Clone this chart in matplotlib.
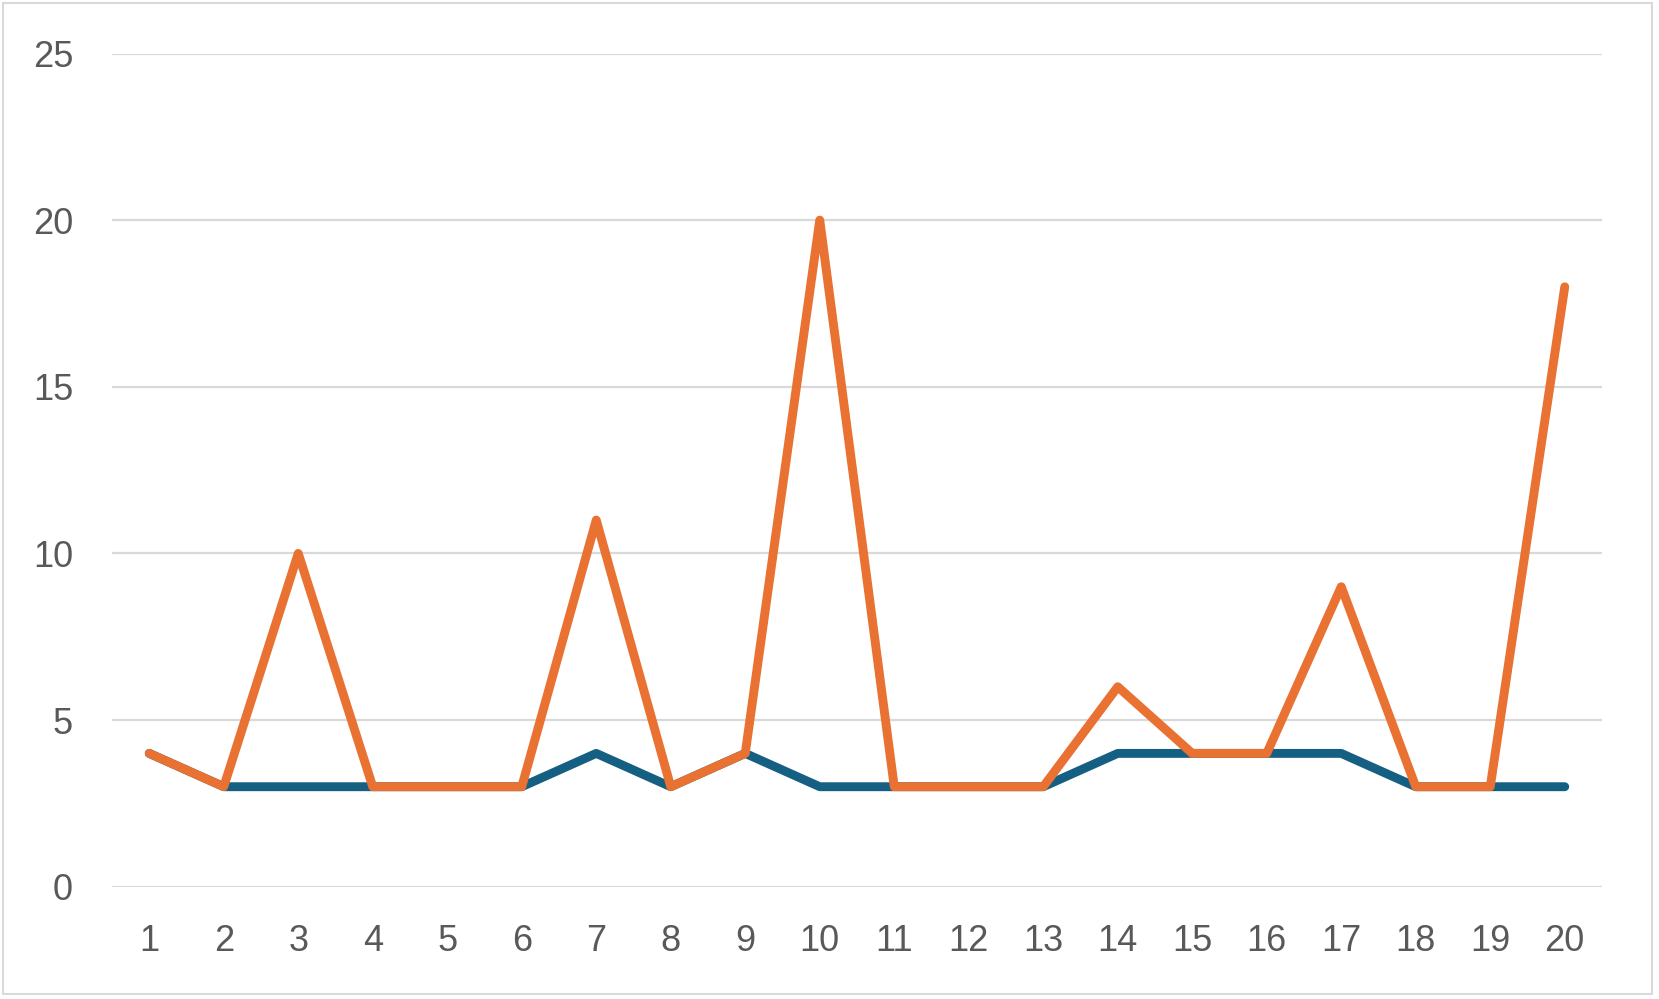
import matplotlib
matplotlib.use("Agg")
import matplotlib.pyplot as plt
from matplotlib.patches import Rectangle

categories = list(range(1, 21))
series_blue = [4, 3, 3, 3, 3, 3, 4, 3, 4, 3, 3, 3, 3, 4, 4, 4, 4, 3, 3, 3]
series_orange = [4, 3, 10, 3, 3, 3, 11, 3, 4, 20, 3, 3, 3, 6, 4, 4, 9, 3, 3, 18]
y_ticks = [0, 5, 10, 15, 20, 25]

W, H = 1659, 999
fig = plt.figure(figsize=(W / 100, H / 100), dpi=100)
fig.patch.set_facecolor("white")
fig.add_artist(Rectangle((3 / W, 1 - 994 / H), 1649 / W, 991 / H, transform=fig.transFigure,
                         fill=False, edgecolor="#D9D9D9", linewidth=1.5))

x0, x1 = 112, 1602
y_top, y_bot = 53.5, 886.7
ax = fig.add_axes([x0 / W, 1 - y_bot / H, (x1 - x0) / W, (y_bot - y_top) / H])
ax.set_xlim(0.5, 20.5)
ax.set_ylim(0, 25)
for s in ax.spines.values():
    s.set_visible(False)
ax.set_yticks(y_ticks)
ax.set_xticks(categories)
ax.set_xticklabels([str(c) for c in categories])
ax.grid(axis="y", color="#D9D9D9", linewidth=1.6)
ax.set_axisbelow(True)
ax.tick_params(length=0, labelsize=26, labelcolor="#595959")
ax.tick_params(axis="y", pad=28)
ax.tick_params(axis="x", pad=27)
for lbl in ax.get_xticklabels() + ax.get_yticklabels():
    lbl.set_family("Liberation Sans")

ax.plot(categories, series_blue, color="#156082", linewidth=6.4,
        solid_capstyle="round", solid_joinstyle="round", clip_on=False)
ax.plot(categories, series_orange, color="#E97132", linewidth=6.4,
        solid_capstyle="round", solid_joinstyle="round", clip_on=False)

fig.savefig("out.png", dpi=100, facecolor="white")
